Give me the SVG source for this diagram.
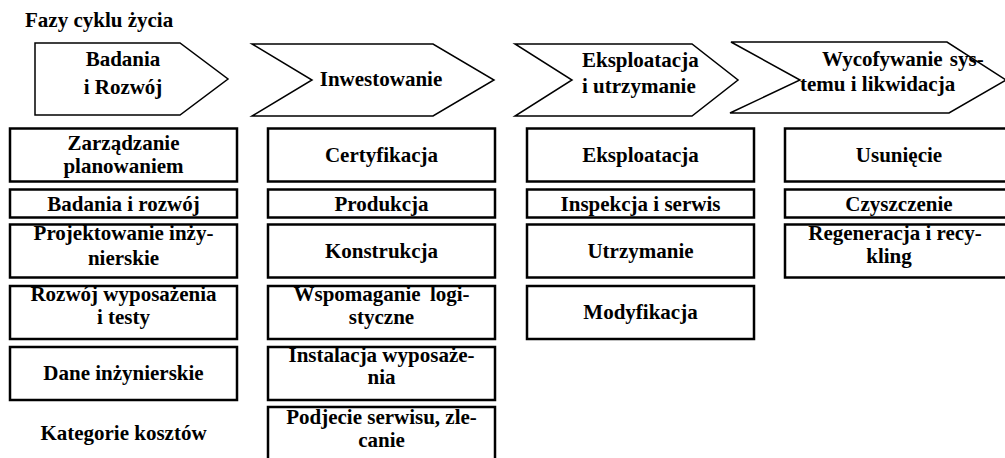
<svg xmlns="http://www.w3.org/2000/svg" width="1005" height="458" viewBox="0 0 1005 458">
<style>
text{font-family:"Liberation Serif","Times New Roman",serif;font-weight:bold;font-size:21px;fill:#000}
.c{text-anchor:middle}
.phase{fill:#fff;stroke:#000;stroke-width:1.5;stroke-linejoin:miter}
.box{fill:#fff;stroke:#000;stroke-width:2.5}
</style>
<rect width="1005" height="458" fill="#fff"/>
<text x="25" y="27">Fazy cyklu życia</text>
<g id="phase1"><polygon class="phase" points="35,43 180,43 228,79 180,115 35,115"/><text class="c" x="123" y="66">Badania</text><text class="c" x="123" y="94">i Rozwój</text></g>
<g id="phase2"><polygon class="phase" points="252,44 433,44 494,80 433,116 252,116 312,80"/><text class="c" x="381" y="86">Inwestowanie</text></g>
<g id="phase3"><polygon class="phase" points="515,44 692,44 738,80 692,116 515,116 572,80"/><text x="582" y="67">Eksploatacja</text><text x="582" y="93">i utrzymanie</text></g>
<g id="phase4"><polygon class="phase" points="731,42 947,42 1006,80 949,113 730,113 800,80"/><text x="822" y="66" word-spacing="2">Wycofywanie sys-</text><text x="800" y="91">temu i likwidacja</text></g>
<g id="connectors"></g>
<g id="c1">
<g id="zarzadzanie"><rect class="box" x="10" y="128.5" width="227" height="53"/><text class="c" x="123.5" y="150">Zarządzanie</text><text class="c" x="123.5" y="173">planowaniem</text></g>
<g id="badania"><rect class="box" x="10" y="189.5" width="227" height="28"/><text class="c" x="123.5" y="211">Badania i rozwój</text></g>
<g id="projektowanie"><rect class="box" x="10" y="224.5" width="227" height="53"/><text class="c" x="123.5" y="240">Projektowanie inży-</text><text class="c" x="123.5" y="265">nierskie</text></g>
<g id="rozwoj"><rect class="box" x="10" y="286" width="227" height="53"/><text class="c" x="123.5" y="301">Rozwój wyposażenia</text><text class="c" x="123.5" y="324">i testy</text></g>
<g id="dane"><rect class="box" x="10" y="347" width="227" height="53"/><text class="c" x="123.5" y="380">Dane inżynierskie</text></g>
<g id="kategorie"><text class="c" x="123.5" y="440">Kategorie kosztów</text></g>
</g>
<g id="c2">
<g id="certyfikacja"><rect class="box" x="268" y="128.5" width="227" height="53"/><text class="c" x="381.5" y="162">Certyfikacja</text></g>
<g id="produkcja"><rect class="box" x="268" y="189.5" width="227" height="28"/><text class="c" x="381.5" y="211">Produkcja</text></g>
<g id="konstrukcja"><rect class="box" x="268" y="224.5" width="227" height="53"/><text class="c" x="381.5" y="258">Konstrukcja</text></g>
<g id="wspomaganie"><rect class="box" x="268" y="286" width="227" height="53"/><text class="c" x="381.5" y="301" word-spacing="4">Wspomaganie logi-</text><text class="c" x="381.5" y="324">styczne</text></g>
<g id="instalacja"><rect class="box" x="268" y="347" width="227" height="53"/><text class="c" x="381.5" y="362">Instalacja wyposaże-</text><text class="c" x="381.5" y="384">nia</text></g>
<g id="podjecie"><rect class="box" x="268" y="407" width="227" height="60"/><text class="c" x="381.5" y="424">Podjecie serwisu, zle-</text><text class="c" x="381.5" y="447">canie</text></g>
</g>
<g id="c3">
<g id="eksploatacja"><rect class="box" x="527" y="128.5" width="227" height="53"/><text class="c" x="640.5" y="162">Eksploatacja</text></g>
<g id="inspekcja"><rect class="box" x="527" y="189.5" width="227" height="28"/><text class="c" x="640.5" y="211">Inspekcja i serwis</text></g>
<g id="utrzymanie"><rect class="box" x="527" y="224.5" width="227" height="53"/><text class="c" x="640.5" y="258">Utrzymanie</text></g>
<g id="modyfikacja"><rect class="box" x="527" y="286" width="227" height="53"/><text class="c" x="640.5" y="319">Modyfikacja</text></g>
</g>
<g id="c4">
<g id="usuniecie"><rect class="box" x="785" y="128.5" width="228" height="53"/><text class="c" x="899" y="162">Usunięcie</text></g>
<g id="czyszczenie"><rect class="box" x="785" y="189.5" width="228" height="28"/><text class="c" x="899" y="211">Czyszczenie</text></g>
<g id="regeneracja"><rect class="box" x="785" y="224.5" width="228" height="53"/><text class="c" x="895" y="240">Regeneracja i recy-</text><text class="c" x="889" y="263">kling</text></g>
</g>
</svg>
